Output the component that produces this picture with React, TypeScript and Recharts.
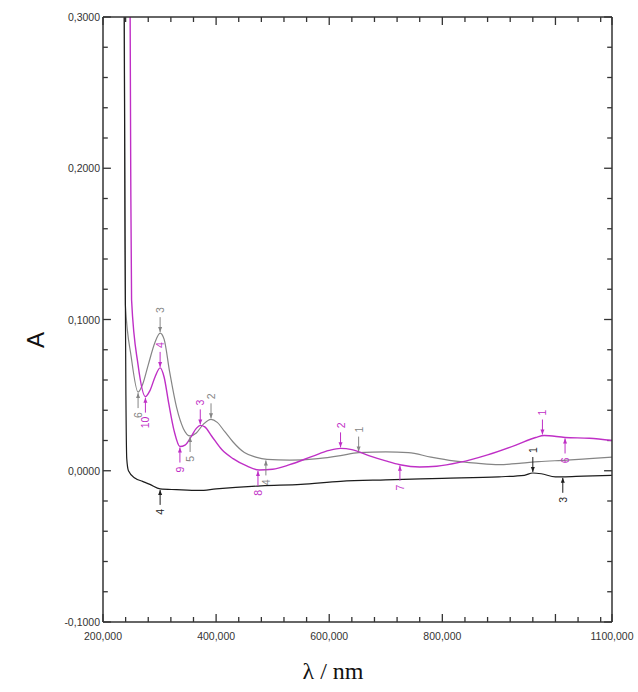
import { LineChart, Line, XAxis, YAxis, ReferenceDot, ReferenceLine, Label } from 'recharts';

// wavelength (nm) / absorbance pairs
const BLACK_NM = [237, 239, 240.5, 242, 245, 257, 270, 283, 301, 330, 370, 400, 480, 550, 620, 700, 800, 900, 945, 960, 975, 1000, 1013, 1050, 1100];
const BLACK_A = [0.35, 0.15, 0.05, 0.008, 0.0, -0.005, -0.007, -0.009, -0.012, -0.0125, -0.013, -0.012, -0.01, -0.009, -0.007, -0.006, -0.005, -0.004, -0.003, -0.0015, -0.002, -0.004, -0.004, -0.0035, -0.003];

const GRAY_NM = [237, 238.5, 239.5, 250, 262, 270, 280, 292, 301, 308, 318, 330, 342, 354, 365, 378, 391, 402, 415, 430, 450, 470, 490, 530, 580, 620, 652, 700, 740, 780, 820, 860, 900, 940, 970, 1020, 1060, 1100];
const GRAY_A = [0.4, 0.2, 0.11, 0.075, 0.052, 0.057, 0.07, 0.085, 0.091, 0.087, 0.065, 0.042, 0.028, 0.023, 0.025, 0.031, 0.034, 0.032, 0.026, 0.019, 0.012, 0.009, 0.0075, 0.007, 0.008, 0.01, 0.012, 0.0125, 0.012, 0.009, 0.0065, 0.005, 0.004, 0.005, 0.006, 0.007, 0.008, 0.009];

const MAGENTA_NM = [247, 249, 250.5, 262, 275, 283, 292, 301, 308, 316, 326, 336, 345, 355, 365, 372, 380, 392, 410, 430, 455, 476, 500, 530, 570, 600, 620, 640, 670, 700, 725, 760, 790, 830, 880, 930, 965, 980, 1017, 1060, 1100];
const MAGENTA_A = [0.4, 0.2, 0.113, 0.07, 0.049, 0.053, 0.062, 0.068, 0.062, 0.045, 0.026, 0.016, 0.017, 0.022, 0.028, 0.03, 0.029, 0.023, 0.014, 0.008, 0.003, 0.0005, 0.001, 0.004, 0.0095, 0.0135, 0.0148, 0.014, 0.01, 0.0065, 0.004, 0.0025, 0.003, 0.0055, 0.0105, 0.017, 0.022, 0.0233, 0.022, 0.0215, 0.02];

const X_TICKS = [200, 240, 280, 320, 360, 400, 440, 480, 520, 560, 600, 640, 680, 720, 760, 800, 840, 880, 920, 960, 1000, 1040, 1080, 1100];
const X_MAJOR = [200, 400, 600, 800, 1000, 1100];
const X_LABELS = [200, 400, 600, 800, 1100];
const Y_TICKS = [-0.1, -0.08, -0.06, -0.04, -0.02, 0, 0.02, 0.04, 0.06, 0.08, 0.1, 0.12, 0.14, 0.16, 0.18, 0.2, 0.22, 0.24, 0.26, 0.28, 0.3];
const Y_LABELS = [-0.1, 0, 0.1, 0.2, 0.3];

const COLORS: Record<string, string> = {
  black: '#1c1c1c',
  gray: '#858585',
  magenta: '#bf2fc6',
};

// numbered arrows pointing at the curves
const MARKERS = [
  { series: 'black', text: '4', nm: 301, a: -0.012, side: 'below' },
  { series: 'black', text: '1', nm: 960, a: -0.0015, side: 'above' },
  { series: 'black', text: '3', nm: 1013, a: -0.004, side: 'below' },
  { series: 'gray', text: '6', nm: 262, a: 0.052, side: 'below' },
  { series: 'gray', text: '3', nm: 301, a: 0.091, side: 'above' },
  { series: 'gray', text: '5', nm: 354, a: 0.023, side: 'below' },
  { series: 'gray', text: '2', nm: 391, a: 0.034, side: 'above' },
  { series: 'gray', text: '4', nm: 488, a: 0.0075, side: 'below' },
  { series: 'gray', text: '1', nm: 652, a: 0.012, side: 'above' },
  { series: 'magenta', text: '10', nm: 275, a: 0.049, side: 'below' },
  { series: 'magenta', text: '4', nm: 301, a: 0.068, side: 'above' },
  { series: 'magenta', text: '9', nm: 336, a: 0.016, side: 'below' },
  { series: 'magenta', text: '3', nm: 372, a: 0.03, side: 'above' },
  { series: 'magenta', text: '8', nm: 474, a: 0.0005, side: 'below' },
  { series: 'magenta', text: '2', nm: 620, a: 0.0148, side: 'above' },
  { series: 'magenta', text: '7', nm: 725, a: 0.004, side: 'below' },
  { series: 'magenta', text: '1', nm: 977, a: 0.0233, side: 'above' },
  { series: 'magenta', text: '6', nm: 1017, a: 0.022, side: 'below' },
];

const toPoints = (xs: number[], ys: number[]) => xs.map((nm, i) => ({ nm, a: ys[i] }));

const AXIS = '#333';
const FONT = '"Liberation Sans", Arial, sans-serif';
const X0 = 200;
const X1 = 1100;
const Y0 = -0.1;
const Y1 = 0.3;

const isMajorY = (v: number) => Math.abs(v * 10 - Math.round(v * 10)) < 1e-6;
const fmtY = (v: number) => (Math.abs(v) < 1e-9 ? 0 : v).toFixed(4).replace('.', ',');

function BottomTick(props: any) {
  const x = Number(props.x);
  const y = Number(props.y);
  const v = props.payload.value;
  if (!X_LABELS.includes(v)) return <g />;
  return (
    <text x={x} y={y + 18} textAnchor="middle" fontSize={10.5} fill="#333" fontFamily={FONT}>
      {v},000
    </text>
  );
}

function LeftTick(props: any) {
  const x = Number(props.x);
  const y = Number(props.y);
  const v = props.payload.value;
  if (!Y_LABELS.some((l) => Math.abs(l - v) < 1e-9)) return <g />;
  return (
    <text x={x - 3} y={y} textAnchor="end" dominantBaseline="central" fontSize={10.5} fill="#333" fontFamily={FONT}>
      {fmtY(v)}
    </text>
  );
}

function Arrow({ cx, cy, color, text, side }: any) {
  const dir = side === 'above' ? -1 : 1;
  const tail = cy + dir * 16;
  const tip = cy + dir * 1;
  const ty = cy + dir * 20;
  return (
    <g>
      <line x1={cx} x2={cx} y1={tail} y2={tip} stroke={color} strokeWidth={1} />
      <path d={`M${cx - 2},${tip + dir * 5} L${cx + 2},${tip + dir * 5} L${cx},${tip} Z`} fill={color} />
      <text
        x={cx}
        y={ty}
        transform={`rotate(-90 ${cx} ${ty})`}
        textAnchor={side === 'above' ? 'start' : 'end'}
        dominantBaseline="central"
        fontSize={10.5}
        fill={color}
        fontFamily={FONT}
      >
        {text}
      </text>
    </g>
  );
}

export default function App() {
  const black = toPoints(BLACK_NM, BLACK_A);
  const gray = toPoints(GRAY_NM, GRAY_A);
  const magenta = toPoints(MAGENTA_NM, MAGENTA_A);

  // inward tick marks on all four sides of the frame
  const tickSegs: any[] = [];
  X_TICKS.forEach((v) => {
    const len = X_MAJOR.includes(v) ? 0.0053 : 0.0033;
    tickSegs.push([{ x: v, y: Y0 }, { x: v, y: Y0 + len }]);
    tickSegs.push([{ x: v, y: Y1 }, { x: v, y: Y1 - len }]);
  });
  Y_TICKS.forEach((v) => {
    const len = isMajorY(v) ? 14 : 8.5;
    tickSegs.push([{ x: X0, y: v }, { x: X0 + len, y: v }]);
    tickSegs.push([{ x: X1, y: v }, { x: X1 - len, y: v }]);
  });

  return (
    <div style={{ width: 638, height: 692, background: '#fff' }}>
      <style>{'body{margin:0}'}</style>
      <LineChart width={638} height={692} margin={{ top: 0, right: 0, bottom: 0, left: 0 }}>
        <XAxis
          dataKey="nm"
          type="number"
          domain={[X0, X1]}
          allowDataOverflow
          ticks={X_TICKS}
          interval={0}
          tick={<BottomTick />}
          tickLine={false}
          tickSize={0}
          tickMargin={0}
          height={70}
          axisLine={{ stroke: AXIS, strokeWidth: 1.5 }}
        >
          <Label
            content={() => (
              <text x={333} y={679} textAnchor="middle" fontSize={24} fill="#111" fontFamily='"Liberation Serif", "Times New Roman", serif'>
                λ / nm
              </text>
            )}
          />
        </XAxis>
        <XAxis
          xAxisId="top"
          orientation="top"
          type="number"
          domain={[X0, X1]}
          allowDataOverflow
          tick={false}
          tickLine={false}
          height={17}
          axisLine={{ stroke: AXIS, strokeWidth: 1.5 }}
        />
        <YAxis
          type="number"
          domain={[Y0, Y1]}
          allowDataOverflow
          ticks={Y_TICKS}
          interval={0}
          tick={<LeftTick />}
          tickLine={false}
          tickSize={0}
          tickMargin={0}
          width={103}
          axisLine={{ stroke: AXIS, strokeWidth: 1.5 }}
        >
          <Label
            content={() => (
              <text x={35} y={340} transform="rotate(-90 35 340)" textAnchor="middle" dominantBaseline="central" fontSize={24} fill="#111" fontFamily={FONT}>
                A
              </text>
            )}
          />
        </YAxis>
        <YAxis
          yAxisId="right"
          orientation="right"
          type="number"
          domain={[Y0, Y1]}
          allowDataOverflow
          tick={false}
          tickLine={false}
          width={26}
          axisLine={{ stroke: AXIS, strokeWidth: 1.5 }}
        />
        {tickSegs.map((seg, i) => (
          <ReferenceLine key={`t${i}`} segment={seg} stroke={AXIS} strokeWidth={1.3} ifOverflow="visible" />
        ))}
        <Line data={gray} dataKey="a" type="monotone" stroke={COLORS.gray} strokeWidth={1.2} dot={false} isAnimationActive={false} />
        <Line data={black} dataKey="a" type="monotone" stroke={COLORS.black} strokeWidth={1.2} dot={false} isAnimationActive={false} />
        <Line data={magenta} dataKey="a" type="monotone" stroke={COLORS.magenta} strokeWidth={1.4} dot={false} isAnimationActive={false} />
        {MARKERS.map((m, i) => (
          <ReferenceDot
            key={i}
            x={m.nm}
            y={m.a}
            r={0}
            shape={(p: any) => <Arrow cx={p.cx} cy={p.cy} color={COLORS[m.series]} text={m.text} side={m.side} />}
          />
        ))}
      </LineChart>
    </div>
  );
}
